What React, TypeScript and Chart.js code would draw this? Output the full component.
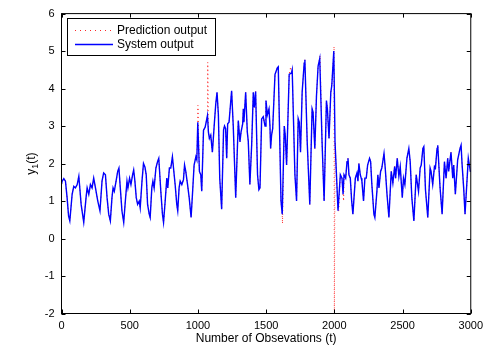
import React, { useEffect, useRef } from "react";
import { Chart, registerables } from "chart.js";

Chart.register(...registerables);

// ---- data ----
const obsIndex = [
  0, 5, 17, 29, 41, 52, 61, 78, 90, 102, 115, 127, 144, 163, 180, 188, 200, 212, 224, 236, 249, 266, 282, 297, 309, 322, 334, 346, 358, 370, 378, 387, 400, 412, 421, 431, 443, 456, 468, 480, 487, 499, 509, 521, 529, 538, 548, 558, 570, 577, 590, 601, 612, 621, 631, 643, 650, 662, 670, 679, 692, 704, 713, 728, 740, 748, 760, 772, 779, 791, 801, 813, 821, 833, 845, 852, 862, 870, 882, 894, 902, 911, 924, 936, 950, 960, 972, 985, 992, 999,
  1011, 1021, 1028, 1041, 1053, 1070, 1077, 1084, 1094, 1106, 1121, 1131, 1140, 1150, 1160, 1174, 1188, 1195, 1203, 1211, 1218, 1228, 1247, 1259, 1277, 1296, 1308, 1316, 1328, 1333, 1337, 1350, 1362, 1369, 1381, 1394, 1406, 1413, 1423, 1437, 1447, 1455, 1467, 1479, 1492, 1499, 1509, 1521, 1528, 1533, 1540, 1548, 1565, 1582, 1589, 1609, 1618, 1633, 1640, 1650, 1669, 1686, 1691, 1711, 1723, 1735, 1743, 1752, 1764, 1779, 1784, 1801, 1820, 1837, 1844, 1857, 1869, 1881, 1893, 1910, 1925, 1942, 1949, 1961, 1974, 1981, 1996,
  2005, 2027, 2032, 2044, 2056, 2064, 2071, 2083, 2093, 2100, 2107, 2117, 2127, 2136, 2154, 2166, 2173, 2180, 2190, 2197, 2202, 2214, 2224, 2234, 2244, 2258, 2266, 2275, 2290, 2297, 2312, 2319, 2327, 2339, 2348, 2364, 2373, 2386, 2400, 2417, 2429, 2442, 2449, 2461, 2473, 2483, 2498, 2507, 2517, 2532, 2546, 2556, 2568, 2583, 2600, 2617, 2629, 2637, 2649, 2656, 2668, 2685, 2702, 2709, 2721, 2734, 2741, 2753, 2758, 2775, 2790, 2807, 2819, 2831, 2838, 2855, 2868, 2875, 2887, 2904, 2921, 2929, 2936, 2948, 2958, 2982, 2997, 3000,
];

const systemOutput = [
  1.45, 1.53, 1.6, 1.53, 1.09, 0.6, 0.47, 1.18, 1.39, 1.35, 1.44, 1.66, 0.91, 0.43, 1.09, 1.35, 1.18, 1.44, 1.35, 1.61, 1.35, 1.0, 0.74, 1.53, 1.75, 1.7, 1.09, 0.65, 0.47, 1.09, 1.35, 1.26, 1.53, 1.79, 1.88, 1.35, 0.74, 0.43, 1.0, 1.53, 1.35, 1.61, 1.44, 1.7, 1.83, 1.53, 1.09, 0.91, 1.0, 0.82, 1.53, 2.0, 1.9, 1.7, 0.91, 0.65, 0.56, 1.35, 1.53, 1.35, 1.88, 2.05, 2.14, 1.26, 0.65, 0.43, 1.0, 1.61, 1.35, 1.88, 1.88, 2.18, 1.88, 1.44, 0.91, 0.74, 1.35, 1.53, 1.44, 1.57, 1.96, 1.79, 1.44, 1.09, 0.56, 1.18, 1.96, 2.18, 2.1, 3.1,
  1.79, 1.7, 1.26, 2.89, 2.97, 3.28, 2.84, 2.67, 2.76, 2.3, 3.1, 3.6, 3.9, 3.3, 1.6, 0.78, 2.9, 3.0, 2.93, 2.14, 3.06, 3.1, 3.94, 3.0, 1.09, 3.15, 2.58, 2.84, 3.06, 3.46, 3.1, 3.9, 2.84, 2.6, 1.44, 2.5, 3.9, 3.5, 3.92, 1.7, 1.3, 1.35, 3.19, 3.25, 3.0, 3.68, 3.3, 3.46, 3.0, 2.4, 2.76, 2.93, 4.38, 4.55, 4.58, 1.0, 0.65, 3.0, 2.76, 1.96, 4.38, 4.42, 4.5, 1.7, 1.0, 3.2, 3.1, 2.3, 3.9, 4.68, 4.77, 2.58, 0.91, 3.46, 3.37, 2.4, 3.8, 4.6, 4.8, 2.58, 1.0, 3.68, 3.46, 2.67, 3.9, 4.07, 5.0,
  2.58, 0.74, 0.74, 1.7, 1.61, 1.18, 1.7, 1.61, 2.05, 2.14, 1.7, 1.61, 1.0, 0.65, 1.61, 1.75, 1.53, 2.0, 1.7, 1.61, 1.53, 1.0, 1.61, 1.61, 1.96, 2.14, 2.05, 1.44, 0.65, 0.56, 1.26, 1.7, 1.35, 1.79, 1.88, 2.27, 1.88, 1.18, 0.56, 1.79, 1.48, 1.92, 1.61, 2.14, 1.66, 1.92, 1.09, 1.61, 1.44, 2.14, 2.4, 2.05, 1.09, 0.47, 1.7, 1.26, 1.88, 1.96, 2.4, 2.45, 1.3, 0.56, 1.88, 1.79, 1.44, 1.92, 1.88, 2.4, 2.49, 1.35, 0.65, 2.05, 1.61, 2.14, 1.79, 2.3, 1.61, 1.96, 1.18, 2.1, 2.4, 2.49, 2.0, 1.35, 0.65, 2.14, 1.79, 1.8,
];

// prediction output deviates from the system output only at these samples
const predictionDevIndex = [1000, 1072, 1620, 1680, 1895, 1998, 2000, 2003, 2068];
const predictionDevValue = [3.55, 4.7, 0.4, 4.58, 4.88, 5.12, -2.3, 0.6, 1.0];

const xTickValues = [0, 500, 1000, 1500, 2000, 2500, 3000];
const yTickValues = [-2, -1, 0, 1, 2, 3, 4, 5, 6];

const legendLabels = ["Prediction output", "System output"];
const xTitle = "Number of Obsevations (t)";
const yTitleMain = "y";
const yTitleSub = "1";
const yTitleTail = "(t)";

const FONT = "'Liberation Sans', Arial, Helvetica, sans-serif";
const BLUE = "#0000ff";
const RED = "rgba(255,0,0,0.85)";

const matlabFrame = {
  id: "matlabFrame",
  afterDraw(chart: any) {
    const { ctx, chartArea, scales } = chart;
    const { left, right, top, bottom } = chartArea;
    const xs = scales.x;
    const ys = scales.y;
    ctx.save();
    ctx.strokeStyle = "#000";
    ctx.lineWidth = 1;
    ctx.setLineDash([]);
    ctx.strokeRect(left, top, right - left, bottom - top);
    const tl = 4;
    ctx.beginPath();
    xTickValues.forEach((v) => {
      const p = Math.round(xs.getPixelForValue(v)) + 0.5;
      ctx.moveTo(p, bottom);
      ctx.lineTo(p, bottom - tl);
      ctx.moveTo(p, top);
      ctx.lineTo(p, top + tl);
    });
    yTickValues.forEach((v) => {
      const p = Math.round(ys.getPixelForValue(v)) + 0.5;
      ctx.moveTo(left, p);
      ctx.lineTo(left + tl, p);
      ctx.moveTo(right, p);
      ctx.lineTo(right - tl, p);
    });
    ctx.stroke();

    // legend box
    const bx = 67.5, by = 18.5, bw = 148, bh = 37;
    ctx.fillStyle = "#fff";
    ctx.fillRect(bx, by, bw, bh);
    ctx.strokeRect(bx, by, bw, bh);
    const rows = [30, 44];
    ctx.strokeStyle = RED;
    ctx.setLineDash([1, 4]);
    ctx.beginPath();
    ctx.moveTo(75, rows[0] + 0.5);
    ctx.lineTo(113, rows[0] + 0.5);
    ctx.stroke();
    ctx.setLineDash([]);
    ctx.strokeStyle = BLUE;
    ctx.lineWidth = 1.4;
    ctx.beginPath();
    ctx.moveTo(75, rows[1] + 0.5);
    ctx.lineTo(113, rows[1] + 0.5);
    ctx.stroke();
    ctx.fillStyle = "#000";
    ctx.font = `12px ${FONT}`;
    ctx.textAlign = "left";
    ctx.textBaseline = "middle";
    ctx.fillText(legendLabels[0], 117, rows[0] + 1);
    ctx.fillText(legendLabels[1], 117, rows[1] + 1);

    // x title
    ctx.font = `12px ${FONT}`;
    ctx.textAlign = "center";
    ctx.textBaseline = "middle";
    ctx.fillText(xTitle, (left + right) / 2, 339);

    // y title with subscript
    ctx.save();
    const cy = (top + bottom) / 2;
    ctx.translate(31, cy);
    ctx.rotate(-Math.PI / 2);
    ctx.font = `12px ${FONT}`;
    const w1 = ctx.measureText(yTitleMain).width;
    const w3 = ctx.measureText(yTitleTail).width;
    ctx.font = `9px ${FONT}`;
    const w2 = ctx.measureText(yTitleSub).width;
    const total = w1 + w2 + w3;
    let x0 = -total / 2;
    ctx.textAlign = "left";
    ctx.textBaseline = "alphabetic";
    ctx.font = `12px ${FONT}`;
    ctx.fillText(yTitleMain, x0, 4);
    x0 += w1;
    ctx.font = `9px ${FONT}`;
    ctx.fillText(yTitleSub, x0, 7);
    x0 += w2;
    ctx.font = `12px ${FONT}`;
    ctx.fillText(yTitleTail, x0, 4);
    ctx.restore();

    ctx.restore();
  },
};

export default function App() {
  const canvasRef = useRef<HTMLCanvasElement | null>(null);

  useEffect(() => {
    const canvas = canvasRef.current;
    if (!canvas) return;
    const systemPoints = obsIndex.map((x, i) => ({ x, y: systemOutput[i] }));
    const devPoints = predictionDevIndex.map((x, i) => ({ x, y: predictionDevValue[i] }));
    const predictionPoints = [...systemPoints, ...devPoints].sort((a, b) => a.x - b.x);

    const chart = new Chart(canvas, {
      type: "line",
      data: {
        datasets: [
          {
            label: legendLabels[0],
            data: predictionPoints,
            borderColor: RED,
            borderWidth: 1,
            borderDash: [1, 3],
            pointRadius: 0,
            tension: 0,
            fill: false,
            order: 1,
          },
          {
            label: legendLabels[1],
            data: systemPoints,
            borderColor: BLUE,
            borderWidth: 1.4,
            pointRadius: 0,
            tension: 0,
            fill: false,
            order: 0,
          },
        ],
      },
      options: {
        responsive: false,
        animation: false,
        events: [],
        layout: { padding: { left: 0, top: 10.5, right: 17.5, bottom: 0 } },
        plugins: {
          legend: { display: false },
          tooltip: { enabled: false },
          title: { display: false },
        },
        scales: {
          x: {
            type: "linear",
            min: 0,
            max: 3000,
            grid: { display: false, drawTicks: false },
            border: { display: false },
            afterBuildTicks: (s: any) => {
              s.ticks = xTickValues.map((v) => ({ value: v }));
            },
            afterFit: (s: any) => {
              s.height = 33.5;
            },
            ticks: {
              color: "#000",
              font: { family: FONT, size: 11 },
              padding: 6,
              maxRotation: 0,
              autoSkip: false,
              callback: (v: any) => String(v),
            },
          },
          y: {
            type: "linear",
            min: -2,
            max: 6,
            grid: { display: false, drawTicks: false },
            border: { display: false },
            afterBuildTicks: (s: any) => {
              s.ticks = yTickValues.map((v) => ({ value: v }));
            },
            afterFit: (s: any) => {
              s.width = 61.5;
            },
            ticks: {
              color: "#000",
              font: { family: FONT, size: 11 },
              padding: 7,
              autoSkip: false,
              callback: (v: any) => String(v),
            },
          },
        },
      },
      plugins: [matlabFrame],
    });
    return () => chart.destroy();
  }, []);

  return (
    <div style={{ position: "fixed", left: 0, top: 0, width: 489, height: 347, background: "#fff" }}>
      <canvas ref={canvasRef} width={489} height={347} style={{ width: 489, height: 347, display: "block" }} />
    </div>
  );
}
